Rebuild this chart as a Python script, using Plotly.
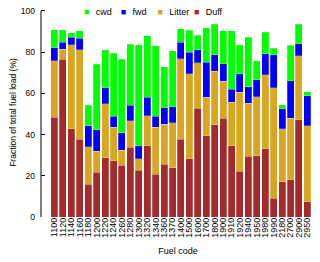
import plotly.graph_objects as go

codes = ['1100','1120','1140','1160','1180','1200','1220','1240','1260','1280',
         '1300','1320','1340','1360','1370','1400','1500','1600','1700','1800',
         '1900','1910','1920','1940','1950','1980','1990','2180','2700','2900','2950']

duff = [48.5, 76.5, 42.7, 37.8, 16.0, 21.8, 28.8, 27.4, 25.0, 33.8, 22.8, 34.5, 20.7, 25.6, 23.8,
        37.7, 28.2, 52.7, 39.4, 44.7, 47.8, 34.5, 22.1, 29.4, 29.6, 33.0, 9.0, 17.2, 18.0, 47.1, 7.4]
litter = [27.3, 4.9, 40.8, 43.4, 18.0, 10.0, 26.2, 16.2, 7.5, 13.0, 5.5, 14.6, 22.8, 19.5, 22.0,
          39.0, 41.2, 22.2, 18.7, 25.9, 18.0, 21.2, 38.5, 25.8, 28.8, 35.9, 53.7, 25.7, 29.8, 31.1, 36.9]
fwd = [6.4, 3.3, 3.6, 5.5, 10.3, 10.6, 7.8, 5.2, 8.4, 7.5, 6.3, 9.0, 5.5, 8.0, 7.8,
       8.1, 10.6, 6.2, 17.0, 8.0, 8.5, 6.4, 8.8, 8.0, 8.1, 10.2, 15.9, 9.6, 18.2, 5.8, 14.6]
cwd = [8.6, 6.2, 2.2, 3.7, 10.0, 31.7, 18.3, 30.7, 35.6, 29.4, 48.9, 29.9, 34.0, 19.7, 27.1,
       6.5, 10.6, 7.2, 16.8, 14.8, 16.1, 28.3, 14.2, 24.0, 9.4, 10.6, 3.3, 2.0, 17.3, 9.5, 1.9]

y_ticks = [0, 20, 40, 60, 80, 100]

series = [("Duff", duff, "#A52A2A"),
          ("Litter", litter, "#DAA520"),
          ("fwd", fwd, "#0000FF"),
          ("cwd", cwd, "#00FF00")]

# one legend box per entry (placed left to right: cwd, fwd, Litter, Duff)
legend_ids = {"cwd": "legend", "fwd": "legend2", "Litter": "legend3", "Duff": "legend4"}
legend_x = {"cwd": 0.011, "fwd": 0.145, "Litter": 0.279, "Duff": 0.412}

FONT = "Liberation Sans, Arial, sans-serif"

fig = go.Figure()
for name, vals, col in series:
    fig.add_trace(go.Bar(x=list(range(len(codes))), y=vals, name=name, showlegend=False,
                         marker=dict(color=col, line=dict(width=0.4, color="rgba(255,255,255,0.6)"))))
for name, vals, col in series:
    label = f"<span style='color:{col}'>\u25A0</span>\u2002\u2009{name}"
    fig.add_trace(go.Scatter(x=[None], y=[None], name=label, mode="lines",
                             legend=legend_ids[name],
                             line=dict(width=0, color="rgba(0,0,0,0)"),
                             showlegend=True))

# y axis line spanning only the tick range (R style)
fig.add_shape(type="line", xref="paper", yref="y", x0=0, x1=0, y0=y_ticks[0], y1=y_ticks[-1],
              line=dict(color="black", width=1))

leg_common = dict(orientation="h", y=0.983, yanchor="middle", xanchor="left",
                  bgcolor="rgba(0,0,0,0)", font=dict(size=9), itemwidth=30)

fig.update_layout(
    width=312, height=254,
    barmode="stack", bargap=0.17,
    plot_bgcolor="white", paper_bgcolor="white",
    margin=dict(l=33, r=5, t=0, b=45, autoexpand=False),
    font=dict(family=FONT, size=9, color="black"),
    showlegend=True,
    legend=dict(x=legend_x["cwd"], **leg_common),
    legend2=dict(x=legend_x["fwd"], **leg_common),
    legend3=dict(x=legend_x["Litter"], **leg_common),
    legend4=dict(x=legend_x["Duff"], **leg_common),
    xaxis=dict(range=[-1.6, 30.9], tickmode="array", tickvals=list(range(len(codes))),
               ticktext=codes, tickangle=-90, showline=False, ticks="", showgrid=False,
               zeroline=False, tickfont=dict(size=9), automargin=False, ticklabelstandoff=-2,
               title=dict(text="Fuel code", font=dict(size=9), standoff=10)),
    yaxis=dict(range=[0, 101.4], tickvals=y_ticks, showline=False,
               ticks="inside", ticklen=4, tickcolor="black", tickwidth=1, showgrid=False,
               zeroline=False, tickfont=dict(size=8.5), ticklabelstandoff=5, automargin=False,
               ticklabeloverflow="allow",
               title=dict(text="Fraction of total fuel load (%)", font=dict(size=8.5), standoff=7)),
)

fig.write_html("out.html")
